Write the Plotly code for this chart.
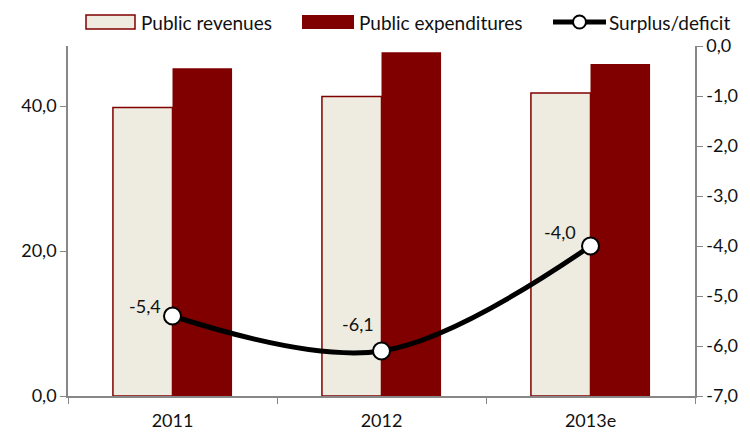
import plotly.graph_objects as go

# Public finance data (% of GDP)
years = ["2011", "2012", "2013e"]
revenues = [39.8, 41.3, 41.8]
expenditures = [45.2, 47.4, 45.8]
balance = [-5.4, -6.1, -4.0]
balance_labels = ["-5,4", "-6,1", "-4,0"]

left_ticks = [0, 20, 40]
left_tick_text = ["0,0", "20,0", "40,0"]
right_ticks = [0, -1, -2, -3, -4, -5, -6, -7]
right_tick_text = ["0,0", "-1,0", "-2,0", "-3,0", "-4,0", "-5,0", "-6,0", "-7,0"]

series_names = ["Public revenues", "Public expenditures", "Surplus/deficit"]

# pixel nudges for each balance label (x, y)
label_nudges = [(-10, -3), (-6, 14), (-13, 1)]

DARK_RED = "#800000"
BEIGE = "#EEEBE0"
AXIS_GREY = "#878787"
TEXT = "#111111"
FONT = "Lato, Open Sans, sans-serif"

# plot area in pixels (left, right, top, bottom)
L, R, T, B = 68, 695, 46, 396
W, H = 750, 433
LEFT_MAX = (B - T) / 7.25  # left scale: 20 units per 145 px


def px_x(p):
    return (p - L) / (R - L)


def px_y(p):
    return (B - p) / (B - T)


fig = go.Figure()

fig.add_trace(go.Bar(
    x=years, y=revenues, name=series_names[0],
    marker=dict(color=BEIGE, line=dict(color=DARK_RED, width=1.5)),
))
fig.add_trace(go.Bar(
    x=years, y=expenditures, name=series_names[1],
    marker=dict(color=DARK_RED, line=dict(color=DARK_RED, width=0)),
))
fig.add_trace(go.Scatter(
    x=years, y=balance, name=series_names[2], yaxis="y2",
    mode="lines+markers",
    line=dict(color="black", width=5, shape="spline", smoothing=1.0),
    marker=dict(size=17, color="white", line=dict(color="black", width=2)),
))

# value labels, placed by category index so they are not read as numbers
for i, (v, lab) in enumerate(zip(balance, balance_labels)):
    dx, dy = label_nudges[i]
    fig.add_annotation(
        x=i, y=v, yref="y2", text=lab, showarrow=False,
        xanchor="right", yanchor="bottom", xshift=dx, yshift=dy,
        font=dict(size=18, color=TEXT, family=FONT),
    )

# legend drawn by hand: wide swatches followed by labels
fig.add_shape(type="rect", xref="paper", yref="paper",
              x0=px_x(86), x1=px_x(135), y0=px_y(29), y1=px_y(15),
              fillcolor=BEIGE, line=dict(color=DARK_RED, width=1.5))
fig.add_shape(type="rect", xref="paper", yref="paper",
              x0=px_x(302), x1=px_x(354), y0=px_y(29), y1=px_y(15),
              fillcolor=DARK_RED, line=dict(color=DARK_RED, width=0))
fig.add_shape(type="line", xref="paper", yref="paper",
              x0=px_x(553), x1=px_x(606), y0=px_y(22), y1=px_y(22),
              line=dict(color="black", width=5))
fig.add_shape(type="circle", xref="paper", yref="paper",
              x0=px_x(573), x1=px_x(586), y0=px_y(28.5), y1=px_y(15.5),
              fillcolor="white", line=dict(color="black", width=2))
for name, xpix in zip(series_names, [139, 357, 607]):
    fig.add_annotation(
        x=px_x(xpix), y=px_y(22), xref="paper", yref="paper",
        text=name, showarrow=False, xanchor="left", yanchor="middle",
        font=dict(size=19, color=TEXT, family=FONT),
    )

fig.update_layout(
    width=W, height=H,
    margin=dict(l=L, r=W - R, t=T, b=H - B, autoexpand=False),
    paper_bgcolor="white", plot_bgcolor="white",
    barmode="group", bargap=0.43, bargroupgap=0,
    font=dict(family=FONT, size=18, color=TEXT),
    showlegend=False,
    xaxis=dict(
        type="category", range=[-0.5, len(years) - 0.5], automargin=False,
        showline=True, linecolor=AXIS_GREY, linewidth=1.5,
        ticks="outside", tickson="boundaries", ticklen=6, tickcolor=AXIS_GREY,
        ticklabelstandoff=8,
        showgrid=False, zeroline=False, tickangle=0,
    ),
    yaxis=dict(
        range=[0, LEFT_MAX], tickvals=left_ticks, ticktext=left_tick_text,
        automargin=False,
        showline=True, linecolor=AXIS_GREY, linewidth=1.5,
        ticks="outside", ticklen=6, tickcolor=AXIS_GREY,
        showgrid=False, zeroline=False,
    ),
    yaxis2=dict(
        overlaying="y", side="right", range=[-7, 0],
        tickvals=right_ticks, ticktext=right_tick_text, automargin=False,
        showline=True, linecolor=AXIS_GREY, linewidth=1.5,
        ticks="outside", ticklen=6, tickcolor=AXIS_GREY,
        showgrid=False, zeroline=False,
    ),
)

fig.write_html("out.html")
